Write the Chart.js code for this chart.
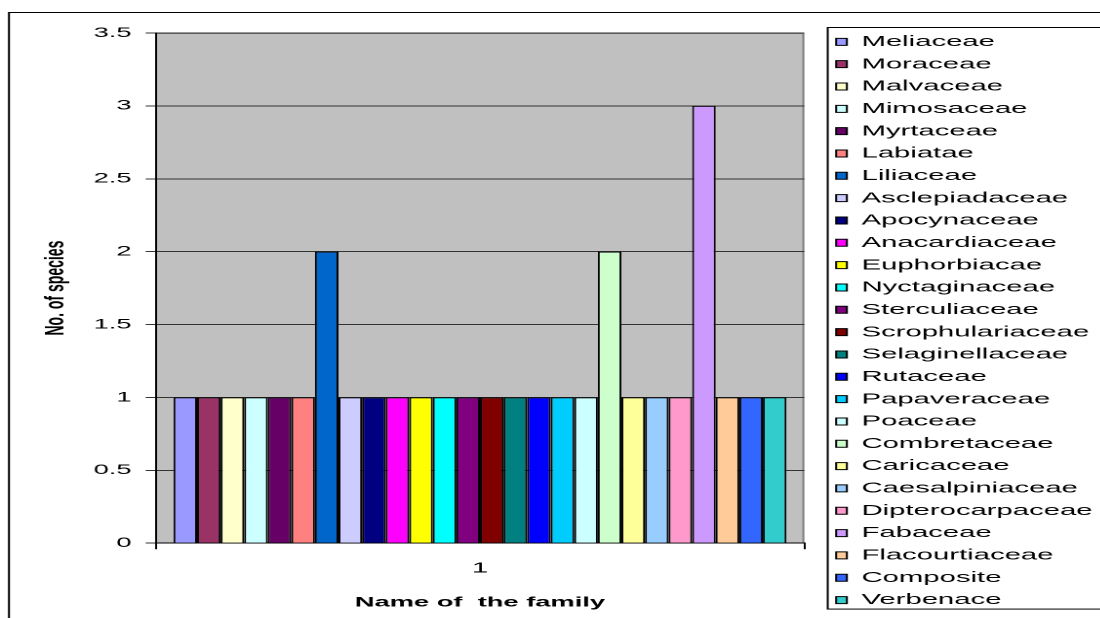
<!DOCTYPE html>
<html>
<head>
<meta charset="utf-8">
<script src="https://cdn.jsdelivr.net/npm/chart.js@4/dist/chart.umd.min.js"></script>
<style>
  html, body { margin: 0; padding: 0; background: #fff; overflow: hidden; }
</style>
</head>
<body>
<!-- the reference image is stretched sideways, so the canvas is drawn narrow and shown wide -->
<canvas id="chart" width="570" height="618" style="display:block;width:1111.5px;height:618px"></canvas>
<script>
// data
var categories = ['1'];
var families = ['Meliaceae', 'Moraceae', 'Malvaceae', 'Mimosaceae', 'Myrtaceae', 'Labiatae',
    'Liliaceae', 'Asclepiadaceae', 'Apocynaceae', 'Anacardiaceae', 'Euphorbiacae', 'Nyctaginaceae',
    'Sterculiaceae', 'Scrophulariaceae', 'Selaginellaceae', 'Rutaceae', 'Papaveraceae', 'Poaceae',
    'Combretaceae', 'Caricaceae', 'Caesalpiniaceae', 'Dipterocarpaceae', 'Fabaceae', 'Flacourtiaceae',
    'Composite', 'Verbenace'];
var speciesCount = [1, 1, 1, 1, 1, 1, 2, 1, 1, 1, 1, 1, 1, 1, 1, 1, 1, 1, 2, 1, 1, 1, 3, 1, 1, 1];
var yMin = 0, yMax = 3.5, yStep = 0.5;

var colors = ['#9999FF', '#993366', '#FFFFCC', '#CCFFFF', '#660066', '#FF8080',
    '#0066CC', '#CCCCFF', '#000080', '#FF00FF', '#FFFF00', '#00FFFF',
    '#800080', '#800000', '#008080', '#0000FF', '#00CCFF', '#CCFFFF',
    '#CCFFCC', '#FFFF99', '#99CCFF', '#FF99CC', '#CC99FF', '#FFCC99',
    '#3366FF', '#33CCCC'];

Chart.defaults.font.family = '"Liberation Sans", Arial, sans-serif';
Chart.defaults.color = '#000';

var datasets = families.map(function (name, i) {
    return {
        label: name,
        data: [speciesCount[i]],
        backgroundColor: colors[i],
        borderColor: '#000',
        borderWidth: 1,
        categoryPercentage: 0.945,
        barPercentage: 1.0
    };
});

// frame, grey plot area and the box round the legend
var excelLook = {
    id: 'excelLook',
    beforeDraw: function (chart) {
        var c = chart.ctx, a = chart.chartArea;
        c.save();
        c.fillStyle = '#fff';
        c.fillRect(0, 0, chart.width, chart.height);
        c.strokeStyle = '#000';
        c.lineWidth = 1;
        c.strokeRect(4.6, 12.5, 2000, 2000);
        c.fillStyle = '#C0C0C0';
        c.fillRect(a.left, a.top, a.right - a.left, a.bottom - a.top);
        c.strokeStyle = '#808080';
        c.beginPath();
        c.moveTo(a.left, a.top + 0.5);
        c.lineTo(a.right - 0.5, a.top + 0.5);
        c.lineTo(a.right - 0.5, a.bottom);
        c.stroke();
        c.restore();
    },
    afterDraw: function (chart) {
        var lg = chart.legend, c = chart.ctx;
        var boxes = lg.legendHitBoxes;
        var last = boxes[boxes.length - 1];
        c.save();
        c.strokeStyle = '#000';
        c.lineWidth = 1;
        c.strokeRect(lg.left + 3, lg.top + 0.5, 2000, last.top + last.height + 1 - lg.top);
        c.restore();
    }
};

var ctx = document.getElementById('chart').getContext('2d');
var familyChart = new Chart(ctx, {
    type: 'bar',
    data: {
        labels: categories,
        datasets: datasets
    },
    plugins: [excelLook],
    options: {
        responsive: false,
        devicePixelRatio: 2,
        animation: false,
        layout: {
            padding: { top: 27, left: 17, right: 0, bottom: 0 }
        },
        plugins: {
            legend: {
                position: 'right',
                align: 'start',
                maxWidth: 200,
                labels: {
                    boxWidth: 5.5,
                    boxHeight: 7,
                    padding: 7.33,
                    font: { size: 15, lineHeight: 1 },
                    color: '#000'
                }
            },
            tooltip: { enabled: false }
        },
        scales: {
            x: {
                grid: {
                    display: true,
                    drawOnChartArea: false,
                    tickLength: 6,
                    color: '#000'
                },
                border: { display: true, color: '#000', width: 1 },
                ticks: { padding: 10, font: { size: 15 }, color: '#000' },
                title: {
                    display: true,
                    text: 'Name of  the family',
                    font: { size: 14, weight: 'bold' },
                    color: '#000',
                    padding: { top: 7, bottom: 7 }
                }
            },
            y: {
                min: yMin,
                max: yMax,
                afterFit: function (s) { s.paddingTop = 33; },
                ticks: {
                    stepSize: yStep,
                    padding: 7.2,
                    font: { size: 14 },
                    color: '#000',
                    callback: function (v) { return String(v); }
                },
                grid: {
                    color: '#333',
                    lineWidth: 1,
                    tickLength: 5.1
                },
                border: { display: true, color: '#000', width: 1 },
                title: {
                    display: true,
                    text: 'No. of species',
                    font: { size: 14, weight: 'bold' },
                    color: '#000',
                    padding: { top: 3, bottom: 4 }
                }
            },
            gap: {
                type: 'linear',
                position: 'right',
                display: true,
                grid: { display: false },
                ticks: { display: false },
                border: { display: false },
                afterFit: function (s) { s.width = 9; }
            }
        }
    }
});
</script>
</body>
</html>
